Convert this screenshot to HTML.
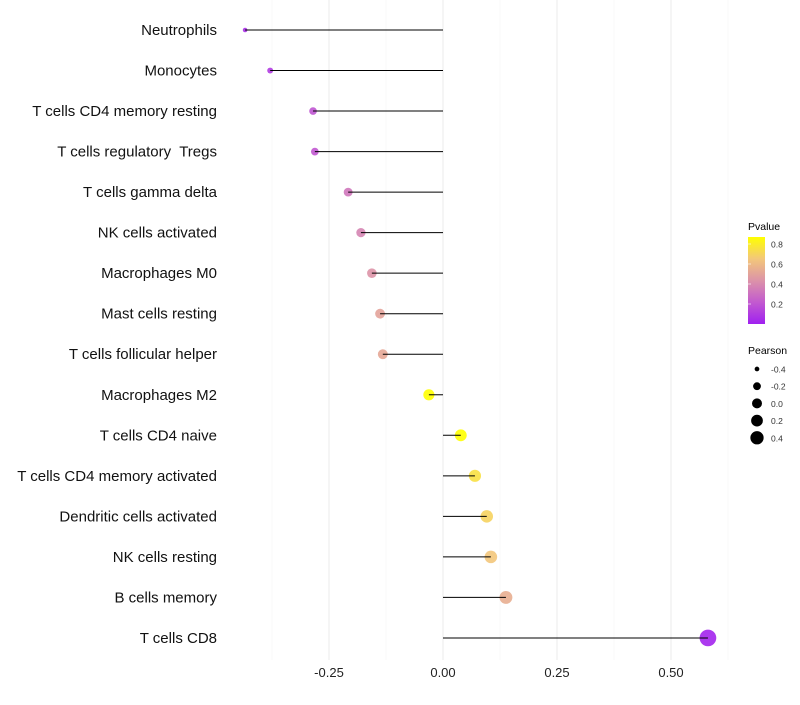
<!DOCTYPE html>
<html><head><meta charset="utf-8"><style>
body{margin:0;background:#fff;font-family:"Liberation Sans",sans-serif;}
text{white-space:pre;}
</style></head><body>
<svg id="chart" width="800" height="700" xmlns="http://www.w3.org/2000/svg" font-family="Liberation Sans, sans-serif">
<defs><linearGradient id="pg" x1="0" y1="1" x2="0" y2="0">
<stop offset="0" stop-color="#A020F0"/><stop offset="0.25" stop-color="#C25ACF"/><stop offset="0.5" stop-color="#DC93A8"/><stop offset="0.75" stop-color="#F3C77A"/><stop offset="1" stop-color="#FFFF00"/></linearGradient></defs>
<g id="grid"></g><g id="marks"></g><g id="labels"></g><g id="legend"></g>
</svg>
<script>
const categories=["Neutrophils","Monocytes","T cells CD4 memory resting","T cells regulatory  Tregs","T cells gamma delta","NK cells activated","Macrophages M0","Mast cells resting","T cells follicular helper","Macrophages M2","T cells CD4 naive","T cells CD4 memory activated","Dendritic cells activated","NK cells resting","B cells memory","T cells CD8"];
const pearson=[-0.434,-0.379,-0.285,-0.281,-0.208,-0.180,-0.156,-0.138,-0.132,-0.031,0.039,0.070,0.096,0.105,0.138,0.581];
const pvalue=[0.06,0.10,0.20,0.21,0.33,0.38,0.44,0.50,0.52,0.88,0.87,0.75,0.70,0.65,0.55,0.02];
const xTicks=[-0.25,0,0.25,0.5];
const xTickLabels=["-0.25","0.00","0.25","0.50"];
const pTicks=[0.2,0.4,0.6,0.8];
const sizeTicks=[-0.4,-0.2,0.0,0.2,0.4];
const NS="http://www.w3.org/2000/svg";
const xs=v=>443+v*456;
const ys=i=>30+i*40.53;
const rs=v=>Math.sqrt(Math.max(3,4+48*(v+0.434)));
function col(p){const t=Math.min(1,Math.max(0,p/0.87));
const st=[[0,[160,32,240]],[0.25,[194,90,207]],[0.5,[220,147,168]],[0.75,[243,199,122]],[1,[255,255,0]]];
for(let k=0;k<st.length-1;k++){if(t<=st[k+1][0]){const f=(t-st[k][0])/(st[k+1][0]-st[k][0]);const a=st[k][1],b=st[k+1][1];return `rgb(${a.map((c,j)=>Math.round(c+(b[j]-c)*f)).join(',')})`;}}return "rgb(255,255,0)";}
function mk(tag,attrs,parent,text){const e=document.createElementNS(NS,tag);for(const k in attrs)e.setAttribute(k,attrs[k]);if(text!==undefined)e.textContent=text;document.getElementById(parent).appendChild(e);return e;}
for(let v=-0.375;v<=0.63;v+=0.125){const major=Math.abs(v/0.25-Math.round(v/0.25))<1e-6;
const l=mk('line',{x1:xs(v),x2:xs(v),y1:0,y2:660,stroke:major?'#ebebeb':'#f4f4f4','stroke-width':major?1:0.6},'grid');

}
xTicks.forEach((v,i)=>{const t=mk('text',{x:xs(v),y:677,'text-anchor':'middle','font-size':13,fill:'#222'},'labels',xTickLabels[i]);

});
categories.forEach((c,i)=>{const y=ys(i);
const t=mk('text',{x:217,y:y+5,'text-anchor':'end','font-size':15,fill:'#111'},'labels',c);


const d=mk('circle',{cx:xs(pearson[i]),cy:y,r:rs(pearson[i])*1.15,fill:col(pvalue[i]),'fill-opacity':0.9},'marks');


const s2=mk('line',{x1:xs(0),x2:xs(pearson[i]),y1:y,y2:y,stroke:'#000','stroke-width':1},'marks');

});
let e=mk('text',{x:748,y:230,'font-size':10.5,fill:'#000'},'legend','Pvalue');


e=mk('rect',{x:748,y:237,width:17,height:87,fill:'url(#pg)'},'legend');


pTicks.forEach(p=>{const y=324-p/0.87*87;
const t=mk('text',{x:771,y:y+3.5,'font-size':8.5,fill:'#333'},'legend',p.toFixed(1));


const l=mk('line',{x1:748,x2:751,y1:y,y2:y,stroke:'#fff','stroke-width':0.6},'legend');

});
e=mk('text',{x:748,y:354,'font-size':10.5,fill:'#000'},'legend','Pearson');


sizeTicks.forEach((v,i)=>{const y=369+i*17.2;
const c=mk('circle',{cx:757,cy:y,r:rs(v),fill:'#000'},'legend');


const t=mk('text',{x:771,y:y+3.5,'font-size':8.5,fill:'#333'},'legend',v.toFixed(1));

});
</script>
</body></html>
